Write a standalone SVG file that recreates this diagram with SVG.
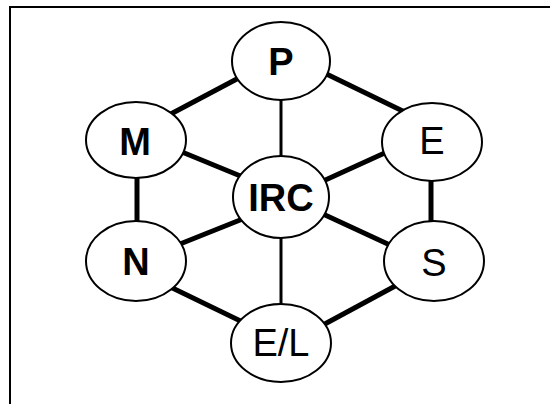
<svg xmlns="http://www.w3.org/2000/svg" width="550" height="404" viewBox="0 0 550 404">
  <style>
    .frame { fill: none; stroke: #000; stroke-width: 2; }
    .edge { stroke: #000; stroke-width: 5; stroke-linecap: butt; }
    .edge.thin { stroke-width: 3; }
    .node ellipse { fill: #fff; stroke: #000; stroke-width: 2; }
    .node text { font-family: "Liberation Sans", Arial, sans-serif; font-size: 38px; font-weight: bold; text-anchor: middle; fill: #000; }
    .node text.light { font-weight: normal; }
  </style>
  <rect width="550" height="404" fill="#fff"/>
  <!-- open frame: top and left rules -->
  <path class="frame" d="M10,404 V7 H550"/>

  <g id="connectors">
    <line class="edge" x1="150" y1="125" x2="250" y2="72"/>
    <line class="edge" x1="310" y1="66" x2="415" y2="117"/>
    <line class="edge thin" x1="281" y1="90" x2="281" y2="165"/>
    <line class="edge" x1="165" y1="145" x2="255" y2="182"/>
    <line class="edge" x1="310" y1="187" x2="400" y2="146"/>
    <line class="edge" x1="137" y1="170" x2="137" y2="230"/>
    <line class="edge" x1="431" y1="170" x2="431" y2="230"/>
    <line class="edge" x1="165" y1="250" x2="260" y2="212"/>
    <line class="edge" x1="160" y1="282" x2="255" y2="328"/>
    <line class="edge" x1="310" y1="208" x2="405" y2="252"/>
    <line class="edge" x1="410" y1="278" x2="310" y2="332"/>
    <line class="edge thin" x1="281" y1="225" x2="281" y2="315"/>
  </g>

  <g id="node-P" class="node">
    <ellipse cx="281" cy="61" rx="49" ry="39"/>
    <text x="281" y="75">P</text>
  </g>
  <g id="node-M" class="node">
    <ellipse cx="136" cy="140" rx="50" ry="38"/>
    <text x="135" y="155">M</text>
  </g>
  <g id="node-E" class="node">
    <ellipse cx="432" cy="142" rx="50" ry="39"/>
    <text class="light" x="432" y="154">E</text>
  </g>
  <g id="node-IRC" class="node">
    <ellipse cx="281" cy="197" rx="48" ry="41"/>
    <text x="281" y="211">IRC</text>
  </g>
  <g id="node-N" class="node">
    <ellipse cx="136" cy="261" rx="50" ry="40"/>
    <text x="136" y="275">N</text>
  </g>
  <g id="node-S" class="node">
    <ellipse cx="434" cy="261" rx="50" ry="40"/>
    <text class="light" x="434" y="276">S</text>
  </g>
  <g id="node-EL" class="node">
    <ellipse cx="281" cy="343" rx="50" ry="39"/>
    <text class="light" x="281" y="356">E/L</text>
  </g>
</svg>
